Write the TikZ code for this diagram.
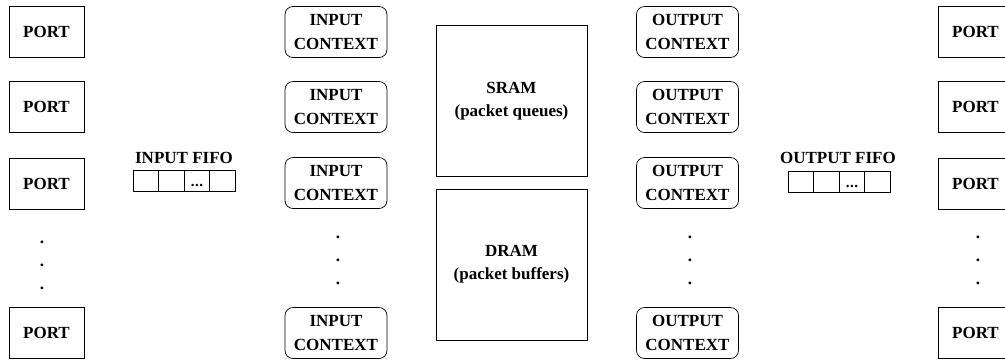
\documentclass[tikz,border=0pt]{standalone}
\usepackage{fontspec}
\setmainfont{Liberation Serif}
\usetikzlibrary{positioning}

\begin{document}
\begin{tikzpicture}[x=1pt, y=-1pt,
   every node/.style={font=\fontsize{17}{24}\selectfont\bfseries, align=center, inner sep=0pt},
   port/.style={draw, line width=0.7pt, minimum width=75pt, minimum height=51pt},
   context/.style={draw, line width=0.7pt, rounded corners=8pt, minimum width=102pt, minimum height=51pt},
   memory/.style={draw, line width=0.7pt, minimum width=151pt, minimum height=151pt, font=\fontsize{17}{23}\selectfont\bfseries},
   cell/.style={draw, line width=0.7pt, minimum width=25.5pt, minimum height=21pt},
   celldots/.style={font=\fontsize{15}{15}\selectfont\bfseries},
   vdots/.style={font=\fontsize{17}{20}\selectfont\bfseries}]

\useasboundingbox (0,0) rectangle (1005,360);
\clip (0,0) rectangle (1005,360);

% ports on the left
\node[port] (lport1) at (46.5,32) {PORT};
\node[port] (lport2) at (46.5,107) {PORT};
\node[port] (lport3) at (46.5,183.5) {PORT};
\node[port] (lportn) at (46.5,333) {PORT};
\node[vdots] (ldot1) at (42,242) {.};
\node[vdots] (ldot2) at (42,265) {.};
\node[vdots] (ldot3) at (42,288) {.};

% input fifo
\foreach \i in {0,1,2,3}
   \node[cell] (ififo\i) at (146+\i*25.5,181) {};
\node[celldots] (ififodots) at ([yshift=-4pt]ififo2.center) {.\kern0.5pt.\kern0.5pt.};
\node (ififolabel) at (184,158) {INPUT FIFO};

% input contexts
\node[context] (ictx1) at (336,32) {INPUT\\CONTEXT};
\node[context] (ictx2) at (336,107) {INPUT\\CONTEXT};
\node[context] (ictx3) at (336,183) {INPUT\\CONTEXT};
\node[context] (ictxn) at (336,333) {INPUT\\CONTEXT};
\node[vdots] (idot1) at (338,237) {.};
\node[vdots] (idot2) at (338,260) {.};
\node[vdots] (idot3) at (338,283) {.};

% memories
\node[memory] (sram) at (511.5,101) {SRAM\\(packet queues)};
\node[memory] (dram) at (511.5,264.5) {DRAM\\(packet buffers)};

% output contexts
\node[context] (octx1) at (687.5,32) {OUTPUT\\CONTEXT};
\node[context] (octx2) at (687.5,107) {OUTPUT\\CONTEXT};
\node[context] (octx3) at (687.5,183) {OUTPUT\\CONTEXT};
\node[context] (octxn) at (687.5,333) {OUTPUT\\CONTEXT};
\node[vdots] (odot1) at (690,237) {.};
\node[vdots] (odot2) at (690,260) {.};
\node[vdots] (odot3) at (690,283) {.};

% output fifo
\foreach \i in {0,1,2,3}
   \node[cell] (ofifo\i) at (801+\i*25.5,182) {};
\node[celldots] (ofifodots) at ([yshift=-4pt]ofifo2.center) {.\kern0.5pt.\kern0.5pt.};
\node (ofifolabel) at (838,158) {OUTPUT FIFO};

% ports on the right
\node[port] (rport1) at (975.5,32) {PORT};
\node[port] (rport2) at (975.5,107) {PORT};
\node[port] (rport3) at (975.5,183.5) {PORT};
\node[port] (rportn) at (975.5,333) {PORT};
\node[vdots] (rdot1) at (978,237) {.};
\node[vdots] (rdot2) at (978,260) {.};
\node[vdots] (rdot3) at (978,283) {.};

\end{tikzpicture}
\end{document}
